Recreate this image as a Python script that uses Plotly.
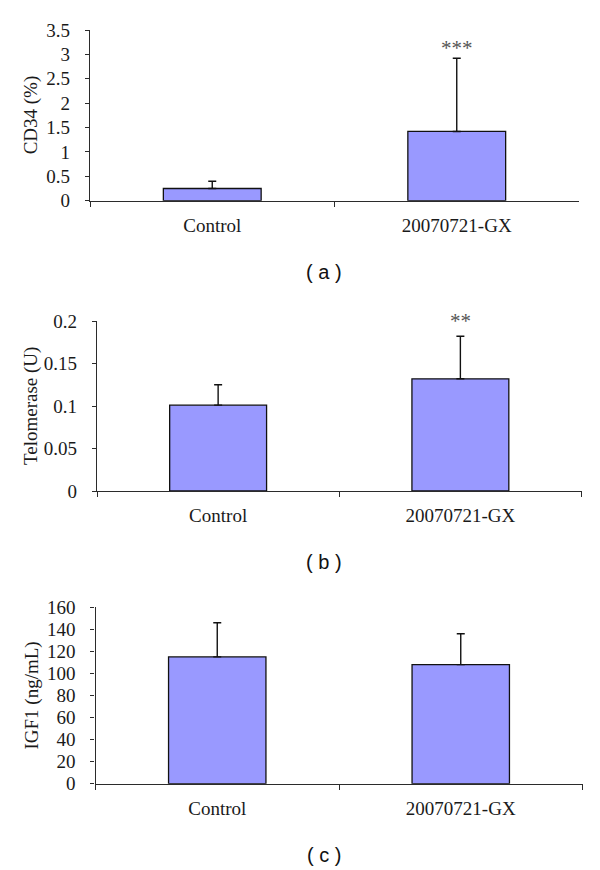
import plotly.graph_objects as go

groups = ["Control", "20070721-GX"]

cd34 = [0.25, 1.42]
cd34_sd = [0.15, 1.50]
telomerase = [0.101, 0.132]
telomerase_sd = [0.024, 0.050]
igf1 = [115, 108]
igf1_sd = [31, 28]

stars = [["", "***"], ["", "**"], ["", ""]]
ytitles = ["CD34 (%)", "Telomerase (U)", "IGF1 (ng/mL)"]
panel_names = ["( a )", "( b )", "( c )"]
yranges = [[0, 3.5], [0, 0.2], [0, 160]]
ydticks = [0.5, 0.05, 20]

W, H = 600, 870
OFF = 8  # page body margin, the figure sits 8px in from the corner
SERIF = "Liberation Serif"
SANS = "Liberation Sans"
BAR = "#9999ff"
AXIS = "#2b2b2b"

# plot boxes in page pixels: left, right, top, bottom
boxes = [(90, 579, 30, 200.7), (97, 581.5, 321, 491), (95.5, 582.5, 607.3, 783.7)]
label_y = [272, 562, 855]
star_shift = [-4, 1, 0]
title_x = 31
label_x = 324


def px(x):
    return (x - OFF) / W


def py(y):
    return 1 - (y - OFF) / H


fig = go.Figure()
series = [(cd34, cd34_sd), (telomerase, telomerase_sd), (igf1, igf1_sd)]

annotations = []
for i, (vals, sd) in enumerate(series):
    n = "" if i == 0 else str(i + 1)
    fig.add_trace(go.Bar(
        x=groups, y=vals, width=0.4,
        marker=dict(color=BAR, line=dict(color="#111111", width=1.3)),
        error_y=dict(type="data", array=sd, arrayminus=[0, 0], symmetric=False,
                     color="#111111", thickness=1.4, width=4),
        xaxis="x" + n, yaxis="y" + n, showlegend=False))

    l, r, t, b = boxes[i]
    fig.layout["xaxis" + n] = dict(
        domain=[px(l), px(r)], anchor="y" + n, type="category",
        showline=True, linecolor=AXIS, linewidth=1.4, automargin=False,
        ticks="outside", tickson="boundaries", ticklen=5, tickcolor=AXIS,
        tickwidth=1.2,
        tickfont=dict(family=SERIF, size=19, color="#1a1a1a"),
        showgrid=False, zeroline=False, ticklabelstandoff=7)
    fig.layout["yaxis" + n] = dict(
        domain=[py(b), py(t)], anchor="x" + n, automargin=False,
        range=yranges[i], dtick=ydticks[i], tick0=0,
        showline=True, linecolor=AXIS, linewidth=1.4,
        ticks="outside", ticklen=4, tickcolor=AXIS, tickwidth=1.2,
        tickfont=dict(family=SERIF, size=19, color="#1a1a1a"),
        showgrid=False, zeroline=False, ticklabelstandoff=11)

    # y axis title
    annotations.append(dict(
        text=ytitles[i], textangle=-90, xref="paper", yref="paper",
        x=px(title_x), y=py((t + b) / 2), xanchor="center", yanchor="middle",
        showarrow=False, font=dict(family=SERIF, size=19, color="#1a1a1a")))
    # panel label
    annotations.append(dict(
        text=panel_names[i], xref="paper", yref="paper",
        x=px(label_x), y=py(label_y[i]), xanchor="center", yanchor="middle",
        showarrow=False, font=dict(family=SANS, size=20, color="#111111")))
    # significance stars
    for g, s, v, e in zip(groups, stars[i], vals, sd):
        if s:
            annotations.append(dict(
                text=s, x=g, y=v + e, xref="x" + n, yref="y" + n,
                xanchor="center", yanchor="bottom", yshift=star_shift[i],
                showarrow=False,
                font=dict(family=SERIF, size=21, color="#555555")))

fig.update_layout(
    width=W, height=H,
    margin=dict(l=0, r=0, t=0, b=0, autoexpand=False),
    paper_bgcolor="white", plot_bgcolor="white",
    annotations=annotations)

fig.write_html("out.html")
